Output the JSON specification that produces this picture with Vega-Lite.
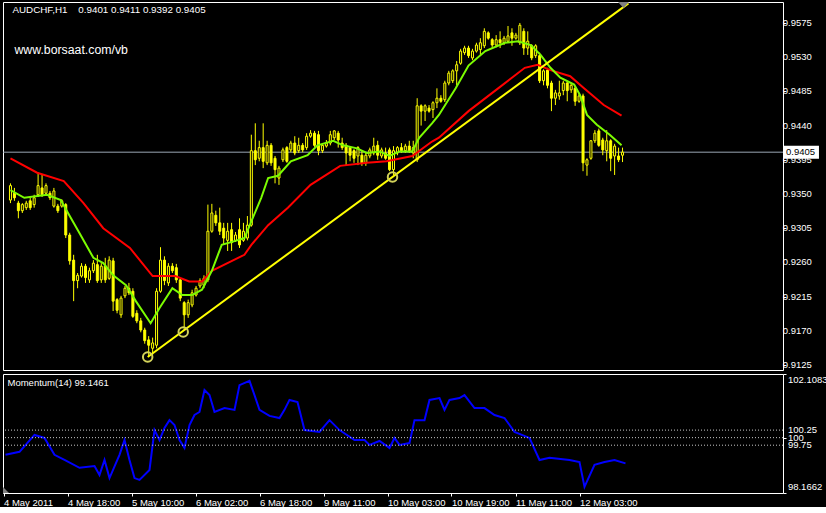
{
"$schema": "https://vega.github.io/schema/vega-lite/v6.json",
"background": "#000000",
"padding": {"left": 1, "top": 1, "right": 0, "bottom": 0},
"config": {
  "view": {"stroke": "#ffffff", "strokeWidth": 1},
  "axis": {"labelColor": "#ffffff", "tickColor": "#ffffff", "domain": false, "grid": false, "labelFont": "Liberation Sans", "labelFontSize": 9.5, "tickSize": 3, "labelPadding": 1, "labelOverlap": false}
},
"datasets": {
  "candles": [
{"i":0,"o":0.9342,"h":0.9364,"l":0.9338,"c":0.9361},{"i":1,"o":0.9351,"h":0.9358,"l":0.9341,"c":0.9345},{"i":2,"o":0.9338,"h":0.9341,"l":0.9318,"c":0.9328},{"i":3,"o":0.9328,"h":0.9338,"l":0.9325,"c":0.9336},{"i":4,"o":0.9332,"h":0.9341,"l":0.9329,"c":0.9338},{"i":5,"o":0.9341,"h":0.9345,"l":0.9329,"c":0.9332},{"i":6,"o":0.9336,"h":0.9349,"l":0.9332,"c":0.9345},{"i":7,"o":0.9349,"h":0.9378,"l":0.9346,"c":0.9361},{"i":8,"o":0.9358,"h":0.9375,"l":0.9346,"c":0.9349},{"i":9,"o":0.9351,"h":0.9364,"l":0.9349,"c":0.9361},
{"i":10,"o":0.9351,"h":0.9354,"l":0.9342,"c":0.9345},{"i":11,"o":0.9334,"h":0.9358,"l":0.9332,"c":0.9354},{"i":12,"o":0.9334,"h":0.9337,"l":0.9325,"c":0.9328},{"i":13,"o":0.9334,"h":0.9343,"l":0.9332,"c":0.9341},{"i":14,"o":0.9336,"h":0.9338,"l":0.9292,"c":0.9296},{"i":15,"o":0.9296,"h":0.9299,"l":0.9257,"c":0.9262},{"i":16,"o":0.9263,"h":0.927,"l":0.9209,"c":0.9236},{"i":17,"o":0.9236,"h":0.9246,"l":0.9226,"c":0.9243},{"i":18,"o":0.9242,"h":0.9259,"l":0.924,"c":0.9255},{"i":19,"o":0.9255,"h":0.9258,"l":0.9233,"c":0.924},
{"i":20,"o":0.9237,"h":0.9253,"l":0.9233,"c":0.9249},{"i":21,"o":0.9249,"h":0.9263,"l":0.9246,"c":0.9259},{"i":22,"o":0.9257,"h":0.927,"l":0.9233,"c":0.9236},{"i":23,"o":0.9237,"h":0.9259,"l":0.9233,"c":0.9255},{"i":24,"o":0.9255,"h":0.9266,"l":0.9233,"c":0.9237},{"i":25,"o":0.9239,"h":0.9268,"l":0.9237,"c":0.9263},{"i":26,"o":0.9262,"h":0.9266,"l":0.9196,"c":0.9209},{"i":27,"o":0.9211,"h":0.9213,"l":0.9193,"c":0.9197},{"i":28,"o":0.9191,"h":0.9216,"l":0.9187,"c":0.9213},{"i":29,"o":0.9216,"h":0.9229,"l":0.9213,"c":0.9226},
{"i":30,"o":0.9226,"h":0.9233,"l":0.9217,"c":0.922},{"i":31,"o":0.9222,"h":0.9226,"l":0.9187,"c":0.9189},{"i":32,"o":0.9193,"h":0.9197,"l":0.918,"c":0.9183},{"i":33,"o":0.9183,"h":0.9187,"l":0.9168,"c":0.9171},{"i":34,"o":0.9171,"h":0.9174,"l":0.9153,"c":0.9157},{"i":35,"o":0.9158,"h":0.9163,"l":0.9137,"c":0.9151},{"i":36,"o":0.9147,"h":0.9161,"l":0.9138,"c":0.9154},{"i":37,"o":0.9151,"h":0.9226,"l":0.9147,"c":0.9222},{"i":38,"o":0.9222,"h":0.928,"l":0.922,"c":0.9263},{"i":39,"o":0.9263,"h":0.9268,"l":0.923,"c":0.9236},
{"i":40,"o":0.9233,"h":0.9259,"l":0.9229,"c":0.9255},{"i":41,"o":0.9255,"h":0.9259,"l":0.9246,"c":0.9249},{"i":42,"o":0.9253,"h":0.9258,"l":0.9233,"c":0.9237},{"i":43,"o":0.9237,"h":0.9239,"l":0.9209,"c":0.9213},{"i":44,"o":0.9207,"h":0.9209,"l":0.9171,"c":0.9191},{"i":45,"o":0.9191,"h":0.9211,"l":0.9187,"c":0.9207},{"i":46,"o":0.9204,"h":0.9224,"l":0.9201,"c":0.922},{"i":47,"o":0.9217,"h":0.9229,"l":0.9215,"c":0.9226},{"i":48,"o":0.9229,"h":0.9239,"l":0.9226,"c":0.9236},{"i":49,"o":0.923,"h":0.9243,"l":0.9226,"c":0.9239},
{"i":50,"o":0.9237,"h":0.9336,"l":0.9234,"c":0.9301},{"i":51,"o":0.9301,"h":0.9337,"l":0.9299,"c":0.9325},{"i":52,"o":0.9322,"h":0.9328,"l":0.9308,"c":0.9312},{"i":53,"o":0.9312,"h":0.9332,"l":0.9296,"c":0.9301},{"i":54,"o":0.9305,"h":0.9312,"l":0.9283,"c":0.9292},{"i":55,"o":0.9289,"h":0.9312,"l":0.9275,"c":0.9301},{"i":56,"o":0.9303,"h":0.9312,"l":0.9275,"c":0.9286},{"i":57,"o":0.9289,"h":0.93,"l":0.9287,"c":0.9296},{"i":58,"o":0.9303,"h":0.9318,"l":0.9279,"c":0.9283},{"i":59,"o":0.9289,"h":0.9312,"l":0.9287,"c":0.9301},
{"i":60,"o":0.9292,"h":0.9321,"l":0.9289,"c":0.9309},{"i":61,"o":0.9309,"h":0.9428,"l":0.9307,"c":0.9407},{"i":62,"o":0.9407,"h":0.9443,"l":0.9388,"c":0.9395},{"i":63,"o":0.9397,"h":0.942,"l":0.9393,"c":0.9411},{"i":64,"o":0.9411,"h":0.9443,"l":0.9384,"c":0.9393},{"i":65,"o":0.9391,"h":0.942,"l":0.9388,"c":0.9414},{"i":66,"o":0.9414,"h":0.9417,"l":0.9387,"c":0.9391},{"i":67,"o":0.9397,"h":0.94,"l":0.9364,"c":0.9382},{"i":68,"o":0.9371,"h":0.9387,"l":0.9362,"c":0.9384},{"i":69,"o":0.9395,"h":0.9411,"l":0.9392,"c":0.9408},
{"i":70,"o":0.9411,"h":0.9413,"l":0.9391,"c":0.9393},{"i":71,"o":0.9408,"h":0.942,"l":0.9405,"c":0.9417},{"i":72,"o":0.9417,"h":0.9426,"l":0.9401,"c":0.9404},{"i":73,"o":0.9407,"h":0.9424,"l":0.9404,"c":0.9414},{"i":74,"o":0.9414,"h":0.9417,"l":0.9405,"c":0.9408},{"i":75,"o":0.9411,"h":0.943,"l":0.9408,"c":0.9426},{"i":76,"o":0.9426,"h":0.9434,"l":0.9424,"c":0.943},{"i":77,"o":0.943,"h":0.9433,"l":0.9412,"c":0.9414},{"i":78,"o":0.9428,"h":0.9433,"l":0.9401,"c":0.9407},{"i":79,"o":0.9407,"h":0.9417,"l":0.9404,"c":0.9414},
{"i":80,"o":0.9413,"h":0.9421,"l":0.9411,"c":0.9417},{"i":81,"o":0.9417,"h":0.9433,"l":0.9414,"c":0.9428},{"i":82,"o":0.9424,"h":0.9434,"l":0.9421,"c":0.9433},{"i":83,"o":0.943,"h":0.9433,"l":0.9411,"c":0.9421},{"i":84,"o":0.9417,"h":0.9424,"l":0.9408,"c":0.9411},{"i":85,"o":0.9414,"h":0.9417,"l":0.9388,"c":0.9404},{"i":86,"o":0.9411,"h":0.9413,"l":0.9393,"c":0.9401},{"i":87,"o":0.9407,"h":0.9409,"l":0.9391,"c":0.9397},{"i":88,"o":0.94,"h":0.9413,"l":0.9388,"c":0.9411},{"i":89,"o":0.9401,"h":0.9407,"l":0.9387,"c":0.9391},
{"i":90,"o":0.9391,"h":0.9404,"l":0.9387,"c":0.9401},{"i":91,"o":0.94,"h":0.9411,"l":0.9397,"c":0.9408},{"i":92,"o":0.9404,"h":0.9424,"l":0.9401,"c":0.9413},{"i":93,"o":0.9414,"h":0.942,"l":0.9395,"c":0.9401},{"i":94,"o":0.94,"h":0.9411,"l":0.9397,"c":0.9408},{"i":95,"o":0.9404,"h":0.9411,"l":0.9395,"c":0.9397},{"i":96,"o":0.9408,"h":0.9411,"l":0.938,"c":0.9382},{"i":97,"o":0.9382,"h":0.9413,"l":0.9375,"c":0.9407},{"i":98,"o":0.9404,"h":0.9413,"l":0.9401,"c":0.9411},{"i":99,"o":0.9411,"h":0.9417,"l":0.9404,"c":0.9407},
{"i":100,"o":0.9407,"h":0.9416,"l":0.9404,"c":0.9413},{"i":101,"o":0.9413,"h":0.942,"l":0.9404,"c":0.9407},{"i":102,"o":0.9404,"h":0.942,"l":0.9397,"c":0.9411},{"i":103,"o":0.9395,"h":0.9476,"l":0.9392,"c":0.9466},{"i":104,"o":0.9466,"h":0.9468,"l":0.944,"c":0.9459},{"i":105,"o":0.9459,"h":0.9468,"l":0.9446,"c":0.9466},{"i":106,"o":0.9463,"h":0.9467,"l":0.9457,"c":0.9459},{"i":107,"o":0.9461,"h":0.9472,"l":0.945,"c":0.947},{"i":108,"o":0.947,"h":0.9489,"l":0.9463,"c":0.9476},{"i":109,"o":0.9476,"h":0.948,"l":0.947,"c":0.9472},
{"i":110,"o":0.9474,"h":0.9499,"l":0.9471,"c":0.9496},{"i":111,"o":0.9496,"h":0.9512,"l":0.9493,"c":0.9509},{"i":112,"o":0.9499,"h":0.9514,"l":0.9496,"c":0.9512},{"i":113,"o":0.9512,"h":0.9525,"l":0.9493,"c":0.952},{"i":114,"o":0.9522,"h":0.9541,"l":0.952,"c":0.9538},{"i":115,"o":0.9536,"h":0.9545,"l":0.9533,"c":0.9542},{"i":116,"o":0.9542,"h":0.9545,"l":0.9529,"c":0.9532},{"i":117,"o":0.9529,"h":0.9541,"l":0.9526,"c":0.9538},{"i":118,"o":0.9538,"h":0.9549,"l":0.9536,"c":0.9546},{"i":119,"o":0.954,"h":0.9555,"l":0.9533,"c":0.9549},
{"i":120,"o":0.9545,"h":0.9568,"l":0.9542,"c":0.9564},{"i":121,"o":0.9562,"h":0.9564,"l":0.9553,"c":0.9555},{"i":122,"o":0.9553,"h":0.9555,"l":0.9542,"c":0.9546},{"i":123,"o":0.9546,"h":0.9559,"l":0.9543,"c":0.9553},{"i":124,"o":0.9553,"h":0.9564,"l":0.9542,"c":0.9549},{"i":125,"o":0.9549,"h":0.9558,"l":0.9546,"c":0.9555},{"i":126,"o":0.9551,"h":0.9571,"l":0.9549,"c":0.9558},{"i":127,"o":0.9562,"h":0.9568,"l":0.9545,"c":0.9555},{"i":128,"o":0.9555,"h":0.9562,"l":0.9553,"c":0.9559},{"i":129,"o":0.9549,"h":0.9575,"l":0.9546,"c":0.9572},
{"i":130,"o":0.9564,"h":0.9568,"l":0.9533,"c":0.9542},{"i":131,"o":0.9542,"h":0.9564,"l":0.9533,"c":0.9551},{"i":132,"o":0.9545,"h":0.9547,"l":0.9526,"c":0.9529},{"i":133,"o":0.9532,"h":0.9547,"l":0.9529,"c":0.9545},{"i":134,"o":0.9532,"h":0.9536,"l":0.9496,"c":0.9499},{"i":135,"o":0.9499,"h":0.9514,"l":0.9493,"c":0.9512},{"i":136,"o":0.9513,"h":0.9516,"l":0.9489,"c":0.9493},{"i":137,"o":0.9496,"h":0.9499,"l":0.9459,"c":0.9476},{"i":138,"o":0.9476,"h":0.9487,"l":0.9467,"c":0.9483},{"i":139,"o":0.9479,"h":0.9499,"l":0.9474,"c":0.9483},
{"i":140,"o":0.9486,"h":0.9499,"l":0.948,"c":0.9496},{"i":141,"o":0.9496,"h":0.9499,"l":0.9472,"c":0.9486},{"i":142,"o":0.9487,"h":0.9496,"l":0.9483,"c":0.9493},{"i":143,"o":0.9489,"h":0.9492,"l":0.9466,"c":0.9472},{"i":144,"o":0.9472,"h":0.9482,"l":0.947,"c":0.9479},{"i":145,"o":0.9479,"h":0.9482,"l":0.938,"c":0.9391},{"i":146,"o":0.9388,"h":0.9397,"l":0.9374,"c":0.9395},{"i":147,"o":0.9397,"h":0.9421,"l":0.9395,"c":0.942},{"i":148,"o":0.942,"h":0.9434,"l":0.9417,"c":0.943},{"i":149,"o":0.9433,"h":0.9436,"l":0.9412,"c":0.9414},
{"i":150,"o":0.9421,"h":0.9424,"l":0.9401,"c":0.9408},{"i":151,"o":0.9407,"h":0.9434,"l":0.9393,"c":0.942},{"i":152,"o":0.942,"h":0.9422,"l":0.938,"c":0.9397},{"i":153,"o":0.94,"h":0.9416,"l":0.9375,"c":0.9413},{"i":154,"o":0.94,"h":0.9411,"l":0.9392,"c":0.9395},{"i":155,"o":0.9401,"h":0.9411,"l":0.9392,"c":0.9405}
  ],
  "green": [
{"i":0,"v":0.9355},{"i":3.5,"v":0.9345},{"i":9.25,"v":0.9349},{"i":12.75,"v":0.9342},{"i":14.25,"v":0.9328},{"i":17.75,"v":0.9296},{"i":21,"v":0.9266},{"i":23.5,"v":0.9259},{"i":26,"v":0.9243},{"i":29.25,"v":0.923},{"i":31.75,"v":0.9209},{"i":35.5,"v":0.918},{"i":37.75,"v":0.92},{"i":41,"v":0.9226},{"i":43.5,"v":0.9217},{"i":46,"v":0.9217},{"i":48.5,"v":0.9224},{"i":51,"v":0.9249},{"i":53.5,"v":0.9283},{"i":56.75,"v":0.9288},{"i":59.25,"v":0.9292},{"i":61,"v":0.9314},{"i":63.5,"v":0.9345},{"i":65.25,"v":0.9371},{"i":67.75,"v":0.9374},{"i":71,"v":0.9393},{"i":75.25,"v":0.9401},{"i":77.75,"v":0.9414},{"i":81.75,"v":0.942},{"i":84.25,"v":0.9414},{"i":87.75,"v":0.941},{"i":90.25,"v":0.9404},{"i":93.5,"v":0.9406},{"i":96,"v":0.94},{"i":98.5,"v":0.9406},{"i":101.75,"v":0.9406},{"i":103.5,"v":0.9424},{"i":106.75,"v":0.9443},{"i":108.5,"v":0.9454},{"i":112.75,"v":0.9489},{"i":116,"v":0.9519},{"i":120.25,"v":0.9538},{"i":125.25,"v":0.9549},{"i":128.5,"v":0.9551},{"i":131.75,"v":0.9546},{"i":134.25,"v":0.9533},{"i":136.75,"v":0.9516},{"i":139.25,"v":0.9503},{"i":142.75,"v":0.9494},{"i":144.25,"v":0.948},{"i":146,"v":0.9454},{"i":148.5,"v":0.9441},{"i":151.75,"v":0.9428},{"i":154.75,"v":0.9414}
  ],
  "red": [
{"i":0,"v":0.9397},{"i":6.75,"v":0.9378},{"i":13.5,"v":0.9367},{"i":18.5,"v":0.9338},{"i":23.5,"v":0.9305},{"i":30.25,"v":0.9279},{"i":36,"v":0.9242},{"i":41.75,"v":0.9242},{"i":45.25,"v":0.9235},{"i":48.5,"v":0.9235},{"i":51,"v":0.9249},{"i":59.25,"v":0.927},{"i":61,"v":0.9283},{"i":65.25,"v":0.9309},{"i":70.25,"v":0.9332},{"i":76,"v":0.9362},{"i":83.5,"v":0.9387},{"i":90.25,"v":0.9391},{"i":95.25,"v":0.9393},{"i":101.75,"v":0.94},{"i":106.75,"v":0.9419},{"i":108.5,"v":0.9424},{"i":116,"v":0.9459},{"i":123.5,"v":0.9489},{"i":130.25,"v":0.9516},{"i":133.5,"v":0.952},{"i":136.75,"v":0.9513},{"i":141.75,"v":0.9505},{"i":145.25,"v":0.9489},{"i":150.25,"v":0.9467},{"i":154.75,"v":0.9453}
  ],
  "mom": [
{"i":0,"m":99.43},{"i":3.5,"m":99.53},{"i":7.25,"m":100.09},{"i":9.75,"m":99.99},{"i":12.25,"m":99.43},{"i":14.75,"m":99.26},{"i":18.5,"m":99.0},{"i":22.25,"m":99.06},{"i":23.5,"m":98.76},{"i":24.75,"m":99.26},{"i":26,"m":98.66},{"i":28.5,"m":99.43},{"i":29.75,"m":99.92},{"i":31,"m":99.26},{"i":32.25,"m":98.66},{"i":33.5,"m":98.6},{"i":36,"m":98.93},{"i":37.25,"m":100.25},{"i":38.5,"m":99.92},{"i":39.75,"m":100.32},{"i":41,"m":100.58},{"i":42.25,"m":100.42},{"i":43.5,"m":99.92},{"i":44.75,"m":99.66},{"i":46,"m":100.42},{"i":47.25,"m":100.75},{"i":48.5,"m":100.85},{"i":49.75,"m":101.58},{"i":51,"m":101.41},{"i":52.25,"m":100.85},{"i":54.75,"m":100.98},{"i":57.25,"m":100.92},{"i":58.5,"m":101.74},{"i":61,"m":101.88},{"i":62.25,"m":101.41},{"i":63.5,"m":100.92},{"i":66,"m":100.72},{"i":68.5,"m":100.65},{"i":69.75,"m":100.92},{"i":71,"m":101.25},{"i":73,"m":101.18},{"i":74.75,"m":100.25},{"i":78.5,"m":100.19},{"i":81,"m":100.58},{"i":83.5,"m":100.25},{"i":87.25,"m":99.92},{"i":89.75,"m":99.92},{"i":91,"m":99.76},{"i":93.5,"m":99.89},{"i":96,"m":99.66},{"i":97.25,"m":99.99},{"i":98.5,"m":99.76},{"i":101,"m":99.82},{"i":102.25,"m":100.58},{"i":104.75,"m":100.58},{"i":106,"m":101.25},{"i":108.5,"m":101.31},{"i":109.75,"m":100.92},{"i":111,"m":101.25},{"i":113.5,"m":101.31},{"i":114.75,"m":101.41},{"i":117.25,"m":100.98},{"i":119.75,"m":100.98},{"i":122.25,"m":100.75},{"i":124.75,"m":100.65},{"i":127.25,"m":100.19},{"i":131,"m":99.99},{"i":133.5,"m":99.26},{"i":136,"m":99.33},{"i":141,"m":99.26},{"i":143.5,"m":99.19},{"i":144.75,"m":98.37},{"i":147.25,"m":99.1},{"i":149.75,"m":99.19},{"i":152.25,"m":99.26},{"i":155,"m":99.1461}
  ],
  "levels": [{"lv": 100.25}, {"lv": 100}, {"lv": 99.75}],
  "ptick": [{"v": 0.9125}, {"v": 0.917}, {"v": 0.9215}, {"v": 0.926}, {"v": 0.9305}, {"v": 0.935}, {"v": 0.9395}, {"v": 0.944}, {"v": 0.9485}, {"v": 0.953}, {"v": 0.9575}],
  "trend": [{"i": 34.75, "p": 0.91355}, {"i": 156.5, "p": 0.96008}],
  "anchors": [{"i": 34.75, "p": 0.91355}, {"i": 43.75, "p": 0.91684}, {"i": 96.75, "p": 0.93723}],
  "one": [{"k": 1}]
},
"vconcat": [
  {
    "width": 780, "height": 368,
    "layer": [
      {
        "data": {"name": "one"},
        "mark": {"type": "rule", "color": "#9aa6b4", "strokeWidth": 1},
        "encoding": {
          "y": {"datum": 0.9405, "type": "quantitative", "scale": {"domain": [0.91184, 0.96026], "zero": false, "nice": false},
                "axis": {"orient": "right", "values": [0.9125, 0.917, 0.9215, 0.926, 0.9305, 0.935, 0.9395, 0.944, 0.9485, 0.953, 0.9575], "labels": false, "title": null}}
        }
      },
      {
        "data": {"name": "candles"},
        "mark": {"type": "rule", "color": "#ffff00", "strokeWidth": 1},
        "encoding": {
          "x": {"field": "i", "type": "quantitative", "scale": {"domain": [-0.625, 194.375], "nice": false, "zero": false}, "axis": null},
          "y": {"field": "h", "type": "quantitative", "scale": {"domain": [0.91184, 0.96026], "zero": false, "nice": false}},
          "y2": {"field": "l"}
        }
      },
      {
        "data": {"name": "candles"},
        "mark": {"type": "bar", "orient": "vertical", "size": 2, "stroke": "#ffff00", "strokeWidth": 1},
        "encoding": {
          "x": {"field": "i", "type": "quantitative", "scale": {"domain": [-0.625, 194.375], "nice": false, "zero": false}, "axis": null},
          "y": {"field": "o", "type": "quantitative", "scale": {"domain": [0.91184, 0.96026], "zero": false, "nice": false}},
          "y2": {"field": "c"},
          "fill": {"condition": {"test": "datum.c < datum.o", "value": "#ffff00"}, "value": "#000000"}
        }
      },
      {
        "data": {"name": "red"},
        "mark": {"type": "line", "color": "#ff0000", "strokeWidth": 2},
        "encoding": {
          "x": {"field": "i", "type": "quantitative", "scale": {"domain": [-0.625, 194.375], "nice": false, "zero": false}, "axis": null},
          "y": {"field": "v", "type": "quantitative", "scale": {"domain": [0.91184, 0.96026], "zero": false, "nice": false}}
        }
      },
      {
        "data": {"name": "green"},
        "mark": {"type": "line", "color": "#7cfc00", "strokeWidth": 2},
        "encoding": {
          "x": {"field": "i", "type": "quantitative", "scale": {"domain": [-0.625, 194.375], "nice": false, "zero": false}, "axis": null},
          "y": {"field": "v", "type": "quantitative", "scale": {"domain": [0.91184, 0.96026], "zero": false, "nice": false}}
        }
      },
      {
        "data": {"name": "trend"},
        "mark": {"type": "line", "color": "#ffff00", "strokeWidth": 2, "clip": true},
        "encoding": {
          "x": {"field": "i", "type": "quantitative", "scale": {"domain": [-0.625, 194.375], "nice": false, "zero": false}, "axis": null},
          "y": {"field": "p", "type": "quantitative", "scale": {"domain": [0.91184, 0.96026], "zero": false, "nice": false}}
        }
      },
      {
        "data": {"name": "anchors"},
        "mark": {"type": "point", "filled": false, "color": "#d2d25a", "strokeWidth": 2, "size": 90, "opacity": 1},
        "encoding": {
          "x": {"field": "i", "type": "quantitative", "scale": {"domain": [-0.625, 194.375], "nice": false, "zero": false}, "axis": null},
          "y": {"field": "p", "type": "quantitative", "scale": {"domain": [0.91184, 0.96026], "zero": false, "nice": false}}
        }
      },
      {
        "data": {"name": "one"},
        "mark": {"type": "point", "shape": "M-1,-0.55L1,-0.55L0,0.55Z", "filled": true, "color": "#808080", "size": 121, "opacity": 1},
        "encoding": {
          "x": {"datum": 155.25, "type": "quantitative", "scale": {"domain": [-0.625, 194.375], "nice": false, "zero": false}, "axis": null},
          "y": {"datum": 0.95987, "type": "quantitative", "scale": {"domain": [0.91184, 0.96026], "zero": false, "nice": false}}
        }
      },
      {
        "data": {"name": "one"},
        "mark": {"type": "text", "text": "AUDCHF,H1\u00a0\u00a0\u00a0 0.9401 0.9411 0.9392 0.9405", "color": "#ffffff", "font": "Liberation Sans", "fontSize": 9.8, "align": "left", "baseline": "middle"},
        "encoding": {
          "x": {"datum": 0.5, "type": "quantitative", "scale": {"domain": [-0.625, 194.375], "nice": false, "zero": false}, "axis": null},
          "y": {"datum": 0.9592, "type": "quantitative", "scale": {"domain": [0.91184, 0.96026], "zero": false, "nice": false}}
        }
      },
      {
        "data": {"name": "one"},
        "mark": {"type": "text", "text": "www.borsaat.com/vb", "color": "#ffffff", "font": "Liberation Sans", "fontSize": 12.3, "align": "left", "baseline": "middle"},
        "encoding": {
          "x": {"datum": 1, "type": "quantitative", "scale": {"domain": [-0.625, 194.375], "nice": false, "zero": false}, "axis": null},
          "y": {"datum": 0.9539, "type": "quantitative", "scale": {"domain": [0.91184, 0.96026], "zero": false, "nice": false}}
        }
      },
      {
        "data": {"name": "ptick"},
        "mark": {"type": "text", "color": "#ffffff", "font": "Liberation Sans", "fontSize": 9.5, "align": "left", "baseline": "middle"},
        "encoding": {
          "x": {"datum": 195.6, "type": "quantitative", "scale": {"domain": [-0.625, 194.375], "nice": false, "zero": false}, "axis": null},
          "y": {"field": "v", "type": "quantitative", "scale": {"domain": [0.91184, 0.96026], "zero": false, "nice": false}},
          "text": {"field": "v", "type": "quantitative", "format": ".4f"}
        }
      },
      {
        "data": {"name": "one"},
        "mark": {"type": "rect", "color": "#ffffff"},
        "encoding": {
          "x": {"datum": 195.75, "type": "quantitative", "scale": {"domain": [-0.625, 194.375], "nice": false, "zero": false}, "axis": null},
          "x2": {"datum": 204.75},
          "y": {"datum": 0.94136, "type": "quantitative", "scale": {"domain": [0.91184, 0.96026], "zero": false, "nice": false}},
          "y2": {"datum": 0.93964}
        }
      },
      {
        "data": {"name": "one"},
        "mark": {"type": "text", "text": "0.9405", "color": "#000000", "font": "Liberation Sans", "fontSize": 9.5, "align": "left", "baseline": "middle"},
        "encoding": {
          "x": {"datum": 196.4, "type": "quantitative", "scale": {"domain": [-0.625, 194.375], "nice": false, "zero": false}, "axis": null},
          "y": {"datum": 0.9405, "type": "quantitative", "scale": {"domain": [0.91184, 0.96026], "zero": false, "nice": false}}
        }
      }
    ]
  },
  {
    "width": 780, "height": 119,
    "layer": [
      {
        "data": {"name": "mom"},
        "mark": {"type": "line", "color": "#0000ff", "strokeWidth": 2},
        "encoding": {
          "x": {"field": "i", "type": "quantitative", "scale": {"domain": [-0.625, 194.375], "nice": false, "zero": false},
                "axis": {"orient": "bottom", "title": null, "values": [-0.5, 15.5, 31.5, 47.5, 63.5, 79.5, 95.5, 111.5, 127.5, 143.5], "labelAlign": "left", "labelPadding": 1, "labelFlush": false,
                         "labelExpr": "['4 May 2011','4 May 18:00','5 May 10:00','6 May 02:00','6 May 18:00','9 May 11:00','10 May 03:00','10 May 19:00','11 May 11:00','12 May 03:00'][round((datum.value + 0.5) / 16)]"}},
          "y": {"field": "m", "type": "quantitative", "scale": {"domain": [98.1662, 102.1083], "zero": false, "nice": false},
                "axis": {"orient": "right", "title": null, "values": [98.1662, 99.75, 100, 100.25, 102.1083], "labels": false}}
        }
      },
      {
        "data": {"name": "levels"},
        "mark": {"type": "rule", "color": "#c8c8c8", "strokeWidth": 1, "strokeDash": [1, 2]},
        "encoding": {
          "y": {"field": "lv", "type": "quantitative", "scale": {"domain": [98.1662, 102.1083], "zero": false, "nice": false}}
        }
      },
      {
        "data": {"name": "levels"},
        "mark": {"type": "text", "color": "#ffffff", "font": "Liberation Sans", "fontSize": 9.5, "align": "left", "baseline": "middle"},
        "encoding": {
          "x": {"datum": 195.6, "type": "quantitative", "scale": {"domain": [-0.625, 194.375], "nice": false, "zero": false}},
          "y": {"field": "lv", "type": "quantitative", "scale": {"domain": [98.1662, 102.1083], "zero": false, "nice": false}},
          "text": {"field": "lv", "type": "quantitative", "format": "~f"}
        }
      },
      {
        "data": {"name": "one"},
        "mark": {"type": "text", "text": "102.1083", "color": "#ffffff", "font": "Liberation Sans", "fontSize": 9.5, "align": "left", "baseline": "top", "dy": 1},
        "encoding": {
          "x": {"datum": 195.6, "type": "quantitative", "scale": {"domain": [-0.625, 194.375], "nice": false, "zero": false}},
          "y": {"datum": 102.1083, "type": "quantitative", "scale": {"domain": [98.1662, 102.1083], "zero": false, "nice": false}}
        }
      },
      {
        "data": {"name": "one"},
        "mark": {"type": "text", "text": "98.1662", "color": "#ffffff", "font": "Liberation Sans", "fontSize": 9.5, "align": "left", "baseline": "bottom", "dy": -1},
        "encoding": {
          "x": {"datum": 195.6, "type": "quantitative", "scale": {"domain": [-0.625, 194.375], "nice": false, "zero": false}},
          "y": {"datum": 98.1662, "type": "quantitative", "scale": {"domain": [98.1662, 102.1083], "zero": false, "nice": false}}
        }
      },
      {
        "data": {"name": "one"},
        "mark": {"type": "point", "shape": "M-1,-1L-1,1L1,1Z", "filled": true, "color": "#808080", "size": 36, "opacity": 1},
        "encoding": {
          "x": {"datum": 0.125, "type": "quantitative", "scale": {"domain": [-0.625, 194.375], "nice": false, "zero": false}},
          "y": {"datum": 98.266, "type": "quantitative", "scale": {"domain": [98.1662, 102.1083], "zero": false, "nice": false}}
        }
      },
      {
        "data": {"name": "one"},
        "mark": {"type": "text", "text": "Momentum(14) 99.1461", "color": "#ffffff", "font": "Liberation Sans", "fontSize": 9.5, "align": "left", "baseline": "middle"},
        "encoding": {
          "x": {"datum": 0.5, "type": "quantitative", "scale": {"domain": [-0.625, 194.375], "nice": false, "zero": false}},
          "y": {"datum": 101.8, "type": "quantitative", "scale": {"domain": [98.1662, 102.1083], "zero": false, "nice": false}}
        }
      }
    ]
  }
],
"spacing": 2
}
